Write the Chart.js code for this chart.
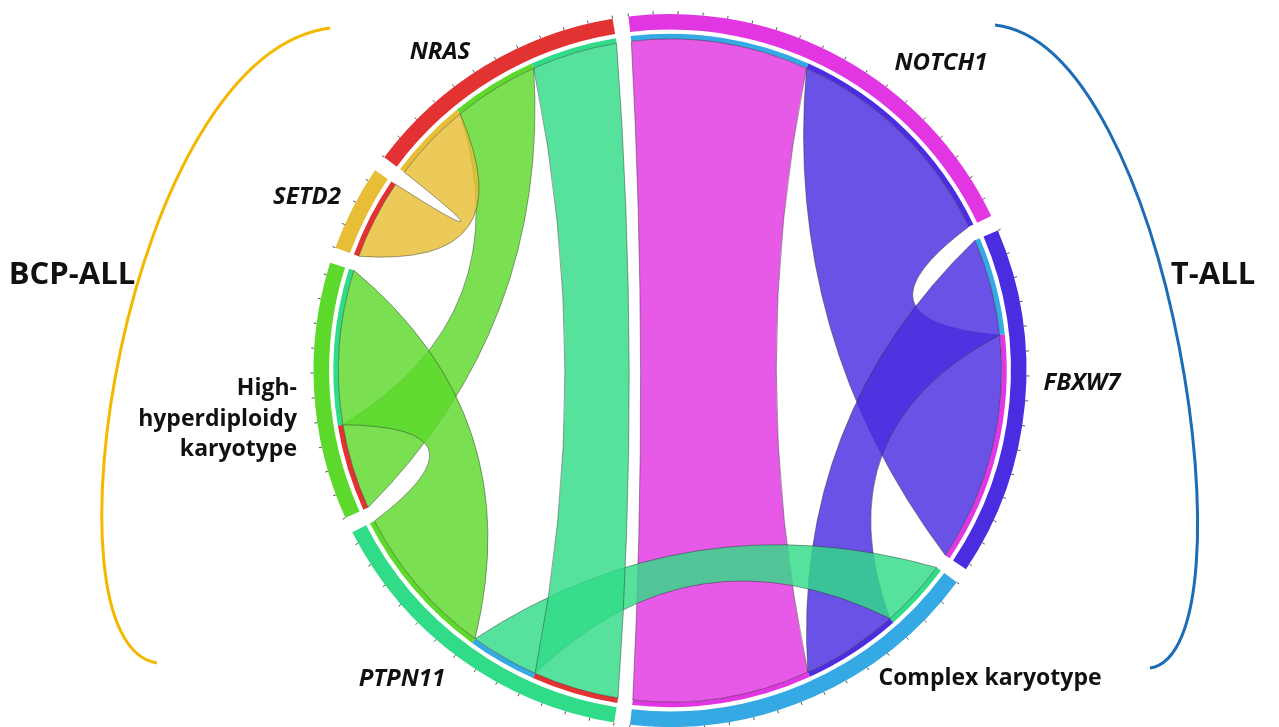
<!DOCTYPE html>
<html lang="en">
<head>
<meta charset="UTF-8">
<title>BCP-ALL / T-ALL chord diagram</title>
<script src="https://cdn.jsdelivr.net/npm/chart.js"></script>
<style>
  html, body { margin: 0; padding: 0; background: #fff; }
  #wrap { width: 1279px; height: 727px; }
</style>
</head>
<body>
<div id="wrap"><canvas id="chord" width="1279" height="727"></canvas></div>
<script>
// sectors, clockwise from the top gap
const segments = ['NOTCH1', 'FBXW7', 'Complex karyotype', 'PTPN11', 'High-hyperdiploidy karyotype', 'SETD2', 'NRAS'];
const segmentColors = ['#e236e2', '#4b2ce0', '#34a9e3', '#31dc88', '#5dd92c', '#e7be35', '#e23232'];

// links (ribbon takes the colour of the "from" sector)
const linkFrom  = ['NOTCH1', 'FBXW7', 'FBXW7', 'PTPN11', 'PTPN11', 'High-hyperdiploidy karyotype', 'SETD2', 'High-hyperdiploidy karyotype'];
const linkTo    = ['Complex karyotype', 'NOTCH1', 'Complex karyotype', 'Complex karyotype', 'NRAS', 'NRAS', 'NRAS', 'PTPN11'];
const linkValue = [31, 40, 17, 12, 15, 15, 14, 27];

// order of the link ends inside each sector (clockwise)
const endOrder = [
  ['Complex karyotype', 'FBXW7'],
  ['Complex karyotype', 'NOTCH1'],
  ['PTPN11', 'FBXW7', 'NOTCH1'],
  ['NRAS', 'Complex karyotype', 'High-hyperdiploidy karyotype'],
  ['NRAS', 'PTPN11'],
  ['NRAS'],
  ['SETD2', 'High-hyperdiploidy karyotype', 'PTPN11']
];
const gapSize = 2.57;

const colorOf = name => segmentColors[segments.indexOf(name)];
function findLink(a, b) {
  for (let i = 0; i < linkValue.length; i++) {
    if ((linkFrom[i] === a && linkTo[i] === b) || (linkFrom[i] === b && linkTo[i] === a)) return i;
  }
  return -1;
}

// build the ring (sector) and inner track (link end) datasets
const ringData = [], ringColors = [], ringLabels = [];
const trackData = [], trackColors = [];
const endIndex = linkValue.map(() => ({}));
segments.forEach((s, i) => {
  let total = 0;
  endOrder[i].forEach(p => {
    const li = findLink(s, p);
    endIndex[li][s] = trackData.length;
    trackData.push(linkValue[li]);
    trackColors.push(colorOf(p));
    total += linkValue[li];
  });
  trackData.push(gapSize);
  trackColors.push('rgba(0,0,0,0)');
  ringData.push(total, gapSize);
  ringColors.push(segmentColors[i], 'rgba(0,0,0,0)');
  ringLabels.push(s, '');
});

function hexA(hex, a) {
  const n = parseInt(hex.slice(1), 16);
  return `rgba(${n >> 16}, ${(n >> 8) & 255}, ${n & 255}, ${a})`;
}

function ribbon(ctx, cx, cy, r, a1, a2, b1, b2, k) {
  const pt = a => [cx + r * Math.cos(a), cy + r * Math.sin(a)];
  const ctrl = (u, v) => {
    const P = pt(u), Q = pt(v);
    const mx = (P[0] + Q[0]) / 2, my = (P[1] + Q[1]) / 2;
    return [mx + k * (cx - mx), my + k * (cy - my)];
  };
  ctx.beginPath();
  ctx.arc(cx, cy, r, a1, a2);
  let c = ctrl(a2, b1), e = pt(b1);
  ctx.quadraticCurveTo(c[0], c[1], e[0], e[1]);
  ctx.arc(cx, cy, r, b1, b2);
  c = ctrl(b2, a1); e = pt(a1);
  ctx.quadraticCurveTo(c[0], c[1], e[0], e[1]);
  ctx.closePath();
}

const chordPlugin = {
  id: 'chords',
  afterDatasetsDraw(chart) {
    const ctx = chart.ctx;
    const arcs = chart.getDatasetMeta(2).data;
    ctx.save();
    linkValue.forEach((v, li) => {
      const a = arcs[endIndex[li][linkFrom[li]]];
      const b = arcs[endIndex[li][linkTo[li]]];
      const r = a.innerRadius;
      ribbon(ctx, a.x, a.y, r, a.startAngle, a.endAngle, b.startAngle, b.endAngle, 0.45);
      ctx.fillStyle = hexA(colorOf(linkFrom[li]), 0.82);
      ctx.fill();
      ctx.strokeStyle = 'rgba(40,40,40,0.55)';
      ctx.lineWidth = 0.8;
      ctx.stroke();
    });

    // tick marks on the outer ring
    const ring = chart.getDatasetMeta(0).data;
    const total = ringData.reduce((s, v) => s + v, 0);
    const step = 4 * Math.PI * 2 / total;
    ctx.strokeStyle = '#555';
    ctx.lineWidth = 1;
    ring.forEach((el, i) => {
      if (i % 2) return;
      for (let a = el.startAngle; a <= el.endAngle + 1e-6; a += step) {
        const c = Math.cos(a), s = Math.sin(a);
        ctx.beginPath();
        ctx.moveTo(el.x + el.outerRadius * c, el.y + el.outerRadius * s);
        ctx.lineTo(el.x + (el.outerRadius + 3) * c, el.y + (el.outerRadius + 3) * s);
        ctx.stroke();
      }
    });
    ctx.restore();
  },
  afterDraw(chart) {
    const ctx = chart.ctx;
    ctx.save();
    // group brackets
    ctx.lineWidth = 3;
    ctx.strokeStyle = '#f4b800';
    ctx.beginPath();
    ctx.moveTo(330, 28);
    ctx.bezierCurveTo(125, 55, 35, 645, 157, 663);
    ctx.stroke();
    ctx.strokeStyle = '#1c6db5';
    ctx.beginPath();
    ctx.moveTo(995, 25);
    ctx.bezierCurveTo(1172, 45, 1258, 652, 1150, 668);
    ctx.stroke();

    ctx.fillStyle = '#111';
    ctx.textBaseline = 'middle';
    ctx.textAlign = 'center';
    ctx.font = 'italic bold 24px "Open Sans"';
    ctx.fillText('NRAS', 440, 52);
    ctx.fillText('NOTCH1', 941, 63);
    ctx.fillText('SETD2', 307, 197);
    ctx.fillText('FBXW7', 1082, 383);
    ctx.fillText('PTPN11', 402, 679);
    ctx.font = 'bold 23px "Open Sans"';
    ctx.fillText('Complex karyotype', 990, 678);
    ctx.textAlign = 'right';
    ctx.fillText('High-', 297, 388);
    ctx.fillText('hyperdiploidy', 297, 419);
    ctx.fillText('karyotype', 297, 449);
    ctx.textAlign = 'center';
    ctx.font = 'bold 31px "Open Sans"';
    ctx.fillText('BCP-ALL', 72, 275);
    ctx.fillText('T-ALL', 1213, 275);
    ctx.restore();
  }
};

new Chart(document.getElementById('chord'), {
  type: 'doughnut',
  data: {
    labels: ringLabels,
    datasets: [
      { data: ringData, backgroundColor: ringColors, borderWidth: 0, weight: 15 },
      { data: ringData, backgroundColor: 'rgba(0,0,0,0)', borderWidth: 0, weight: 4 },
      { data: trackData, backgroundColor: trackColors, borderWidth: 0, weight: 5 }
    ]
  },
  options: {
    responsive: false,
    animation: false,
    events: [],
    rotation: -6.7,
    circumference: 360,
    cutout: '93%',
    hoverOffset: 0,
    offset: 0,
    layout: { padding: { left: 61, top: 14, right: 0, bottom: 0 } },
    plugins: { legend: { display: false }, tooltip: { enabled: false } }
  },
  plugins: [chordPlugin]
});
</script>
</body>
</html>
